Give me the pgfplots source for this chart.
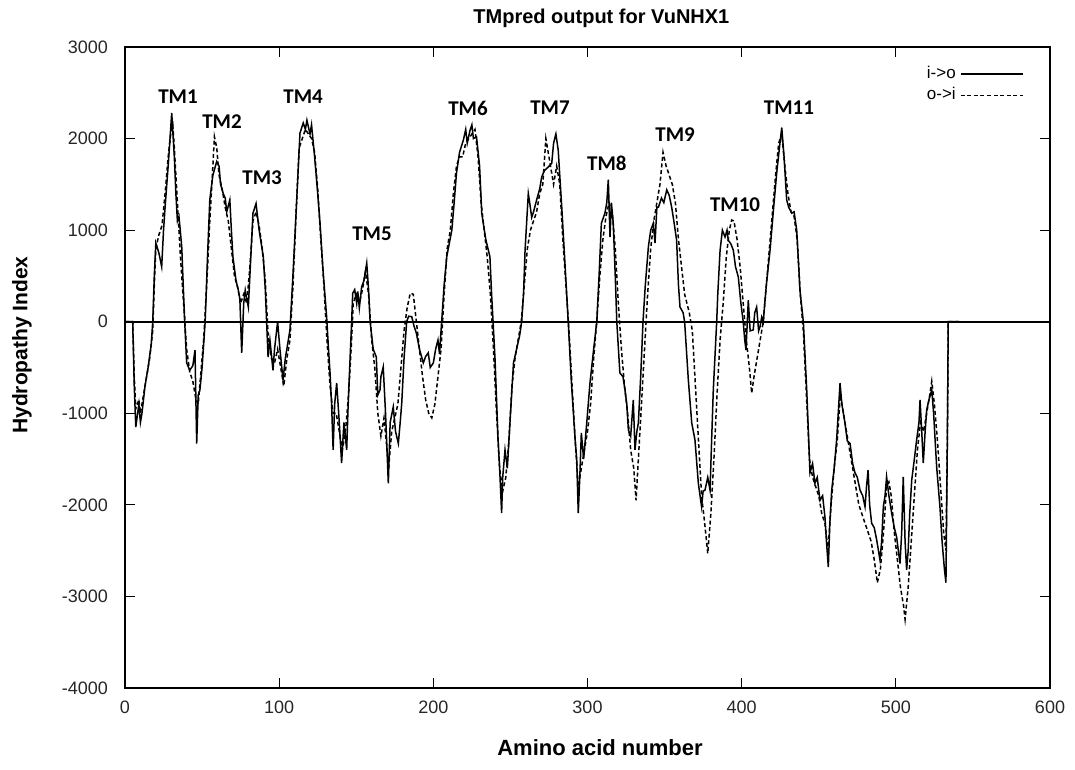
\documentclass[border=0pt]{standalone}
\usepackage{fontspec}
\setmainfont{Liberation Sans}
\newfontfamily\tmfont{Carlito}
\usepackage{pgfplots}
\pgfplotsset{compat=1.18}
\begin{document}
\begin{tikzpicture}
\begin{axis}[name=ax, scale only axis, width=462.5pt, height=320.5pt,
 xmin=0, xmax=600, ymin=-4000, ymax=3000,
 xtick={0,100,...,600}, ytick={-4000,-3000,...,3000},
 tick align=inside, major tick length=5pt,
 tick style={black, line width=0.6pt},
 axis line style={line width=0.8pt},
 /pgf/number format/assume math mode=true,
 /pgf/number format/1000 sep={},
 ticklabel style={font=\fontsize{9}{10}\selectfont, text=black!85},
 yticklabel style={xshift=-5pt},
 xticklabel style={yshift=-3pt},
 title={TMpred output for VuNHX1},
 title style={font=\bfseries\fontsize{10}{12}\selectfont, at={(0.515,1.026)}, anchor=center},
 xlabel={Amino acid number},
 xlabel style={font=\bfseries\fontsize{11}{13}\selectfont, at={(axis description cs:0.5135,-0.0936)}, anchor=center},
 ylabel={Hydropathy Index},
 ylabel style={font=\bfseries\fontsize{10.5}{12}\selectfont, at={(axis description cs:-0.1114,0.535)}, anchor=center},
 legend plot pos=right,
 legend cell align=right,
 legend style={at={(0.978,0.983)}, anchor=north east, draw=none, fill=none,
   font=\fontsize{8.5}{9}\selectfont, row sep=-1pt},
 legend image code/.code={\draw[#1] (0pt,0pt) -- (31pt,0pt);},
]
\addplot[forget plot, black, line width=0.8pt] coordinates {(0,0) (600,0)};
\addplot[black, line width=0.75pt] coordinates {
(0,0) (5,0) (6,-700) (7,-1150) (9,-900) (10,-1100) (11,-1000) (13,-700) (15,-500) (17,-250)
(18,0) (19,500) (20,860) (22,750) (23.8,600) (25,1000) (26,1250) (28,1700) (30.3,2280) (32,1800)
(33,1400) (34,1100) (35,1150) (36.8,820) (38,300) (39,-100) (40,-450) (42,-530) (44,-480) (45.4,-310)
(46.5,-1330) (47.5,-800) (48.6,-745) (50,-500) (52,0) (53.5,700) (55,1330) (57,1600) (59.5,1750) (61,1700)
(62,1500) (63.7,1400) (65,1350) (66,1200) (68,1330) (69,1000) (70,710) (72,450) (73.5,345) (74.5,250)
(75.7,-340) (77,200) (78,345) (79,250) (80,160) (81,500) (83,1185) (85,1290) (87,1000) (89.7,710)
(91,350) (92.8,-385) (94,-200) (96,-530) (97,-300) (99,0) (100.5,-300) (102.5,-635) (104,-400) (107,-90)
(109,530) (111,1200) (113.5,2060) (115.6,2170) (117,2100) (118,2200) (120,2050) (121,2150) (123,1800) (125,1400)
(126.5,1075) (128.5,550) (130.8,50) (132,-300) (133,-560) (134,-900) (135,-1400) (136,-900) (137.3,-670) (139,-1100)
(140.5,-1545) (142,-1100) (143.8,-1400) (144.7,-930) (146,-400) (147,0) (147.7,310) (149,350) (150.3,200) (151,330)
(152,150) (153.5,380) (155,450) (156.8,640) (158,350) (159,0) (161,-300) (163,-385) (164,-800) (165.4,-745)
(166,-600) (167.5,-495) (169,-1000) (170.8,-1765) (172,-1100) (174,-930) (175.5,-1200) (177.3,-1330) (178.5,-1100) (179.5,-890)
(181,-400) (182.7,0) (184,60) (186,55) (187.5,-50) (189,-125) (191,-300) (193.5,-450) (195,-380) (196.7,-340)
(198,-500) (200,-450) (201.5,-300) (203,-200) (204,-350) (205.4,0) (207,400) (208.7,710) (212,1000) (213.5,1300)
(215,1620) (217,1850) (219.5,1985) (221,2100) (222,1950) (223.8,2090) (225,2150) (226,2000) (228,2020) (230,1700)
(231.4,1185) (234,900) (236.7,710) (237.8,300) (240,-400) (242,-1290) (243,-1600) (244.3,-2090) (245,-1700) (246.5,-1400)
(248,-1600) (249.7,-1105) (252,-450) (254,-300) (256,-150) (257.3,0) (258.5,300) (259.5,780) (261.6,1400) (262.5,1300)
(263.8,1140) (265,1200) (267,1330) (269,1450) (270.3,1580) (272,1650) (274.6,1690) (276.8,1730) (278,1950) (279.5,2050)
(281,1875) (282,1600) (283.3,1250) (285.5,600) (287.5,0) (289.5,-650) (292,-1290) (293,-1500) (294,-2090) (295,-1700)
(296,-1215) (297.5,-1500) (299.5,-1105) (301.6,-670) (304,-300) (306,0) (307.5,500) (309,1075) (311.3,1185) (312.5,1300)
(313.5,1550) (314.6,925) (315.5,1300) (316.7,1075) (318,500) (319,0) (321,-560) (323,-600) (324.3,-745) (325.5,-900)
(326.5,-1180) (328,-1250) (329.7,-855) (330.8,-1400) (332,-1200) (333,-1105) (334.5,-600) (336,0) (337.5,400) (339.5,820)
(341,1000) (342.7,1075) (343.8,860) (345,1250) (346,1250) (348,1350) (349.5,1300) (351.4,1440) (353,1380) (354.6,1250)
(356,1100) (357.8,890) (359,400) (360,160) (362,100) (363,0) (365.4,-635) (367.6,-1105) (369.7,-1290) (371.9,-1765)
(373,-1900) (374,-2020) (375,-1850) (376.2,-1840) (378,-1700) (379.5,-1840) (380.5,-1300) (381.6,-745) (383.8,0) (384.5,300)
(386,780) (387.5,1000) (389.2,925) (390.5,1000) (391.3,890) (393,850) (394.6,780) (396,600) (397.8,490) (399.5,200)
(401,0) (402,-200) (402.8,-310) (404.3,235) (405.5,-100) (407.5,-90) (408.5,100) (409.7,160) (411,-100) (411.9,-55)
(413,50) (414,0) (416,400) (418.4,780) (420.5,1200) (422.7,1620) (424.5,1900) (426,2120) (427.5,1800) (429.2,1330)
(430.5,1250) (432.5,1185) (434,1200) (435.7,1000) (437,600) (437.8,345) (440,0) (442.2,-745) (444.3,-1650) (446,-1550)
(447.5,-1765) (449,-1700) (450.8,-1950) (452.5,-1900) (454,-2130) (455,-2400) (456.2,-2680) (457.2,-2200) (458.4,-1840) (460,-1600)
(461.6,-1290) (463,-900) (463.8,-670) (465,-900) (467,-1105) (468.5,-1300) (470.3,-1330) (472,-1550) (473.5,-1650) (475,-1700)
(476.8,-1840) (478.5,-1900) (480,-2020) (481,-1800) (482,-1620) (483,-2000) (484.3,-2200) (486,-2250) (487.6,-2385) (489.7,-2600)
(490.8,-2400) (491.9,-2020) (493,-1900) (494,-1695) (495.5,-1900) (497.3,-2090) (499,-2250) (500.5,-2350) (502.7,-2640) (503.8,-2300)
(504.8,-1695) (506,-2400) (507,-2710) (508,-2500) (509,-2100) (510.3,-1730) (512,-1500) (513.5,-1290) (515,-1100) (515.7,-855)
(516.8,-1200) (517.8,-1545) (519,-1200) (520,-965) (521.5,-850) (523.3,-745) (524.5,-1000) (525.5,-1300) (526.5,-1590) (528.6,-2020)
(530,-2400) (531.5,-2700) (532.5,-2850) (533.3,-1500) (534,0) (541,0)
};
\addlegendentry{i->o}
\addplot[black, line width=0.75pt, dash pattern=on 2pt off 1.3pt] coordinates {
(0,0) (5,0) (6,-600) (7,-950) (9,-850) (10,-1000) (12,-800) (14,-600) (16,-400) (18,-100)
(19,400) (20,800) (22,950) (24,1050) (26,1400) (28,1800) (30,2100) (31,2150) (32,1900) (34,1300)
(36,700) (38,200) (40,-300) (42,-550) (44,-650) (46,-850) (47.5,-900) (49,-600) (51,-200) (53,400)
(55,1100) (57,1700) (58,2020) (59.5,1900) (61,1600) (63,1450) (65,1250) (67,1100) (69,800) (71,500)
(73,380) (75,200) (77,300) (79,200) (81,600) (83,1100) (85,1200) (87,1050) (89,800) (91,450)
(93,-200) (95,-400) (97,-450) (99,-300) (101,-500) (103,-700) (105,-400) (107,-200) (109,400) (111,1200)
(113,1900) (115,2000) (117,2100) (119,2050) (121,2000) (123,1850) (125,1450) (127,900) (129,400) (131,-200)
(133,-700) (135,-1000) (137,-1000) (139,-1200) (141,-1400) (143,-1200) (145,-800) (147,-200) (148,200) (150,300)
(152,200) (154,350) (156,550) (158,300) (160,-200) (162,-500) (164,-1000) (166,-1250) (168,-1050) (170,-1400)
(171,-1600) (173,-1200) (175,-1050) (177,-900) (179,-500) (181,-100) (183,150) (185,310) (187,300) (189,0)
(191,-300) (193,-600) (195,-850) (197,-1000) (199,-1050) (201,-900) (203,-600) (205,-300) (207,300) (209,800)
(211,1000) (213,1400) (215,1700) (217,1800) (219,1800) (221,1950) (223,2000) (225,2050) (227,2100) (229,1800)
(231,1300) (233,1000) (235,700) (237,300) (239,-300) (241,-1000) (243,-1600) (245,-1850) (247,-1700) (249,-1300)
(251,-700) (253,-400) (255,-200) (257,0) (259,400) (261,800) (263,1000) (265,1100) (267,1200) (269,1400)
(271,1500) (273,2000) (274.5,1850) (276,1700) (278,1500) (280,1700) (282,1500) (284,900) (286,400) (288,-100)
(290,-700) (292,-1300) (294,-1800) (296,-1600) (298,-1400) (300,-1200) (302,-900) (304,-400) (306,0) (308,500)
(310,900) (312,1150) (314,1300) (316,1200) (318,800) (320,200) (322,-300) (324,-700) (326,-1000) (328,-1400)
(330,-1600) (331.5,-1950) (333,-1500) (335,-900) (337,-300) (339,300) (341,800) (343,1100) (345,1300) (347,1500)
(349,1850) (351,1700) (353,1600) (355,1500) (357,1300) (359,900) (361,600) (363,300) (366,100) (368,-100)
(370,-700) (372,-1300) (374,-1900) (376,-2200) (378,-2530) (380,-2100) (382,-1500) (384,-800) (386,-200) (388,200)
(390,700) (392,1000) (393.5,1110) (395,1100) (397,900) (399,600) (401,200) (403,-200) (405,-500) (406.5,-780)
(408,-600) (410,-400) (412,-200) (414,0) (416,400) (418,800) (420,1200) (422,1600) (424,1950) (426,2050)
(428,1700) (430,1400) (432,1200) (434,1150) (436,900) (438,300) (440,-100) (442,-800) (444,-1500) (446,-1700)
(448,-1800) (450,-1900) (452,-2100) (454,-2200) (456,-2500) (458,-2000) (460,-1600) (462,-1300) (464,-800) (466,-1000)
(468,-1200) (470,-1400) (472,-1600) (474,-1800) (476,-2000) (478,-2100) (480,-2200) (482,-2300) (484,-2400) (486,-2600)
(488,-2850) (490,-2700) (492,-2300) (494,-1800) (495.5,-1750) (497,-1900) (499,-2300) (501,-2600) (503,-2900) (505,-3100)
(506,-3250) (508,-2900) (510,-2400) (512,-1900) (514,-1400) (516,-1100) (518,-1200) (520,-1000) (522,-800) (523.3,-650)
(525,-900) (527,-1300) (529,-1800) (531,-2300) (532.5,-2500) (533.5,-1200) (534,0) (541,0)
};
\addlegendentry{o->i}
\begin{scope}[font=\tmfont\bfseries\fontsize{10.5}{12}\selectfont]
\node at (axis cs:34.4,2454) {TM1};
\node at (axis cs:62.9,2181) {TM2};
\node at (axis cs:88.9,1569) {TM3};
\node at (axis cs:115.5,2454) {TM4};
\node at (axis cs:160.2,956) {TM5};
\node at (axis cs:222.5,2333) {TM6};
\node at (axis cs:275.7,2333) {TM7};
\node at (axis cs:312.6,1733) {TM8};
\node at (axis cs:356.8,2039) {TM9};
\node at (axis cs:395.7,1274) {TM10};
\node at (axis cs:430.7,2333) {TM11};
\end{scope}
\end{axis}
\pgfresetboundingbox
\path ([shift={(-62.5pt,-41pt)}]ax.south west) rectangle ([shift={(12.5pt,23.5pt)}]ax.north east);
\end{tikzpicture}
\end{document}
